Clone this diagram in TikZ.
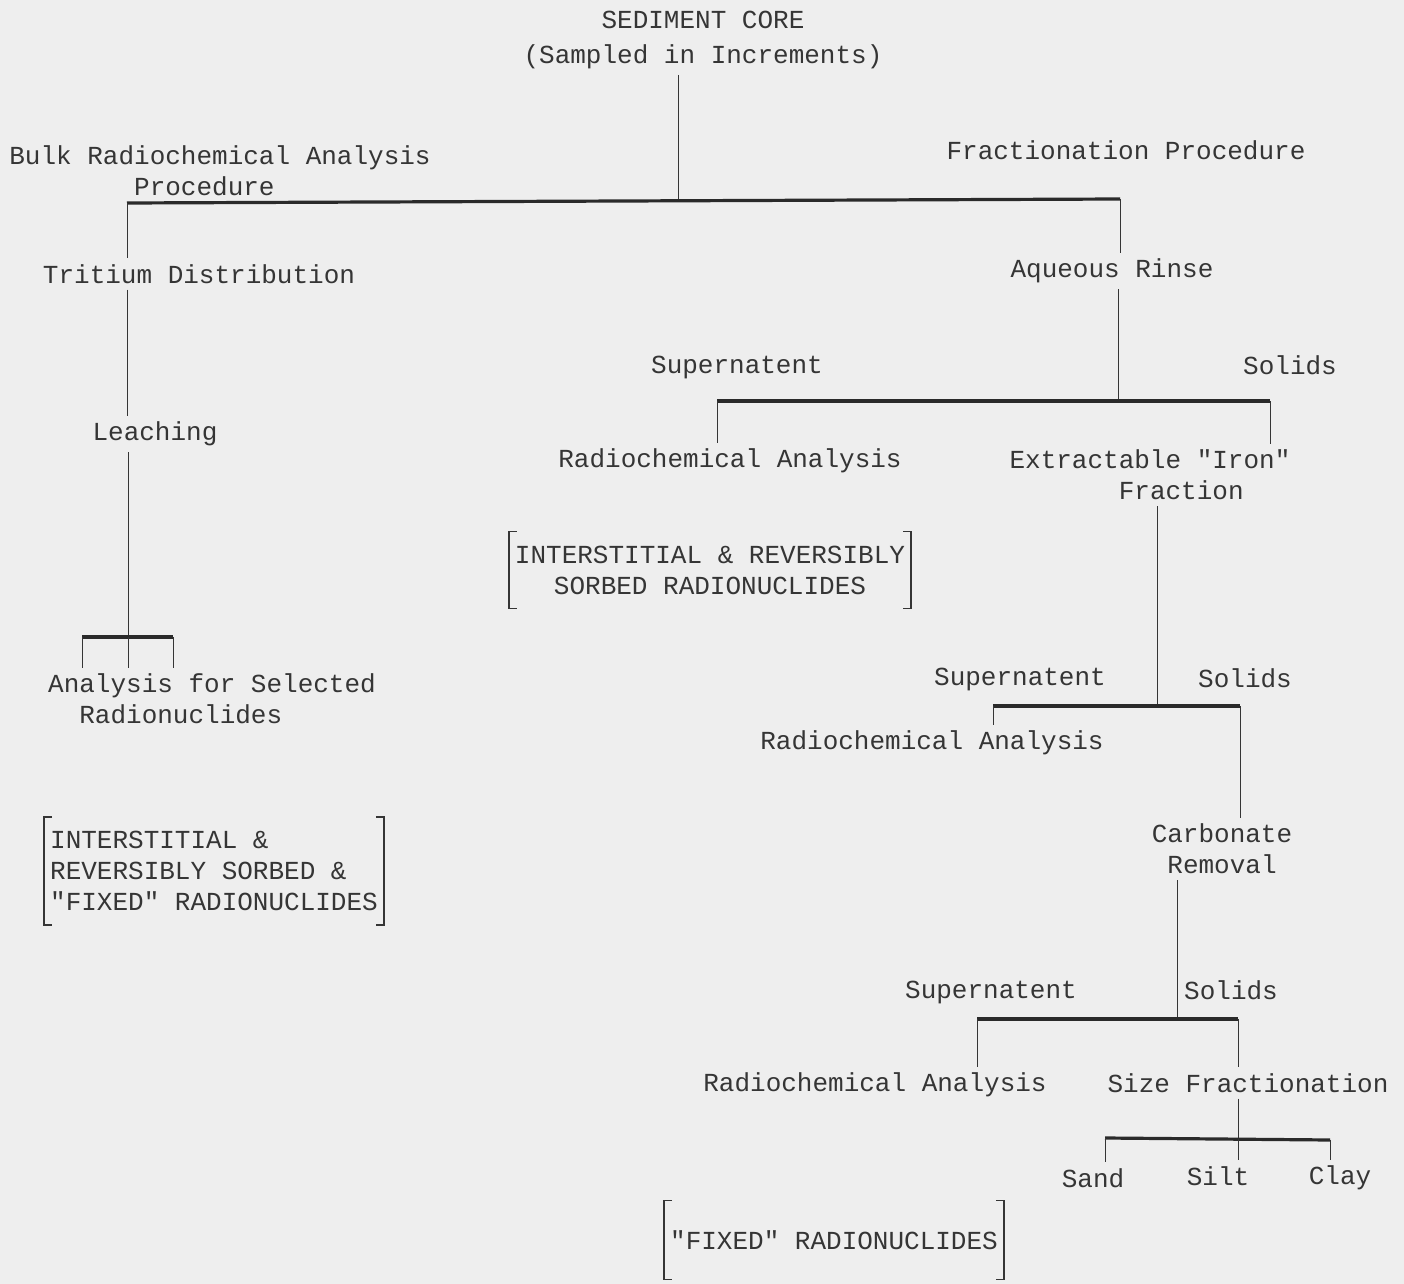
\documentclass[tikz,border=0pt]{standalone}
\usepackage{fontspec}
\newfontfamily\typewriter{Liberation Mono}
\usepackage{xcolor}
\usepackage{tikz}
\usetikzlibrary{positioning}

\definecolor{paper}{HTML}{EEEEEE}
\definecolor{ink}{HTML}{353535}

\begin{document}
\begin{tikzpicture}[x=0.5pt,y=-0.5pt,
    lbl/.style={inner sep=0pt,outer sep=3pt,font=\typewriter\fontsize{13}{15.5}\selectfont,text=ink},
    vline/.style={draw=ink,line width=0.5pt},
    bar/.style={draw=ink!80!black,line width=1.6pt},
    bracketbox/.style={lbl,inner xsep=3pt,inner ysep=7pt,outer sep=0pt}]
    \fill[paper] (0,0) rectangle (1404,1284);
    \useasboundingbox (0,0) rectangle (1404,1284);

    % left branch
    \node[lbl,align=center] (core) at (703,40) {SEDIMENT CORE\\[2pt](Sampled in Increments)};
    \node[lbl,align=left] (bulk) at (220,171) {Bulk Radiochemical Analysis\\\hphantom{xxxxxxxx}Procedure};
    \node[lbl] (frac) at (1126,150) {Fractionation Procedure};
    \node[lbl] (trit) at (199,274) {Tritium Distribution};
    \node[lbl] (leach) at (155,434) {Leaching};
    \node[lbl,align=left] (sel) at (212,699) {Analysis for Selected\\\hphantom{xx}Radionuclides};
    \node[bracketbox,align=left] (boxA) at (214,871) {INTERSTITIAL \&\\REVERSIBLY SORBED \&\\"FIXED" RADIONUCLIDES};

    % right branch
    \node[lbl] (rinse) at (1112,271) {Aqueous Rinse};
    \node[lbl] (supA) at (737,368) {Supernatent};
    \node[lbl] (solA) at (1290,365) {Solids};
    \node[lbl] (radA) at (730,461) {Radiochemical Analysis};
    \node[lbl,align=left] (iron) at (1150,475) {Extractable "Iron"\\\hphantom{xxxxxxx}Fraction};
    \node[bracketbox,align=center] (boxB) at (710,570) {INTERSTITIAL \& REVERSIBLY\\SORBED RADIONUCLIDES};
    \node[lbl] (supB) at (1020,679) {Supernatent};
    \node[lbl] (solB) at (1245,678) {Solids};
    \node[lbl] (radB) at (932,743) {Radiochemical Analysis};
    \node[lbl,align=center] (carb) at (1222,849) {Carbonate\\Removal};
    \node[lbl] (supC) at (991,992) {Supernatent};
    \node[lbl] (solC) at (1231,990) {Solids};
    \node[lbl] (radC) at (875,1085) {Radiochemical Analysis};
    \node[lbl] (size) at (1248,1083) {Size Fractionation};
    \node[lbl] (sand) at (1093,1178) {Sand};
    \node[lbl] (silt) at (1218,1176) {Silt};
    \node[lbl] (clay) at (1340,1178) {Clay};
    \node[bracketbox,inner ysep=15pt] (boxC) at (834,1240) {"FIXED" RADIONUCLIDES};

    % junctions
    \coordinate (top) at (678,201);
    \coordinate (barL) at (127,203);
    \coordinate (barR) at (1120,199);
    \coordinate (selL) at (82,637);
    \coordinate (selM) at (128,637);
    \coordinate (selR) at (173,637);
    \coordinate (rinseJ) at (1118,401);
    \coordinate (supL) at (717,401);
    \coordinate (solR) at (1270,401);
    \coordinate (ironJ) at (1157,706);
    \coordinate (radBL) at (993,706);
    \coordinate (carbR) at (1240,706);
    \coordinate (carbJ) at (1177,1019);
    \coordinate (radCL) at (977,1019);
    \coordinate (sizeR) at (1238,1019);
    \coordinate (sizeJ) at (1238,1139);
    \coordinate (sandL) at (1105,1138);
    \coordinate (clayR) at (1330,1140);

    \draw[vline] (core.south -| top) -- (top);
    \draw[bar] (barL) -- (barR);
    \draw[vline] (barL) -- (barL |- trit.north);
    \draw[vline] (barR) -- (barR |- rinse.north);
    \draw[vline] (barL |- trit.south) -- (barL |- leach.north);
    \draw[vline] (selM |- leach.south) -- (selM);
    \draw[bar] (selL) -- (selR);
    \foreach \c in {selL,selM,selR}
        \draw[vline] (\c) -- (\c |- sel.north);

    \draw[vline] (rinse.south -| rinseJ) -- (rinseJ);
    \draw[bar] (supL) -- (solR);
    \draw[vline] (supL) -- (supL |- radA.north);
    \draw[vline] (solR) -- (solR |- iron.north);

    \draw[vline] (iron.south -| ironJ) -- (ironJ);
    \draw[bar] (radBL) -- (carbR);
    \draw[vline] (radBL) -- (radBL |- radB.north);
    \draw[vline] (carbR) -- (carbR |- carb.north);

    \draw[vline] (carb.south -| carbJ) -- (carbJ);
    \draw[bar] (radCL) -- (sizeR);
    \draw[vline] (radCL) -- (radCL |- radC.north);
    \draw[vline] (sizeR) -- (sizeR |- size.north);

    \draw[vline] (size.south -| sizeJ) -- (sizeJ);
    \draw[bar] (sandL) -- (clayR);
    \draw[vline] (sandL) -- (sandL |- sand.north);
    \draw[vline] (sizeJ) -- (sizeJ |- silt.north);
    \draw[vline] (clayR) -- (clayR |- clay.north);

    % brackets
    \foreach \b in {boxA,boxB,boxC} {
        \draw[vline,line width=0.8pt] ([xshift=4pt]\b.north west) -| (\b.south west) -- ++(4pt,0);
        \draw[vline,line width=0.8pt] ([xshift=-4pt]\b.north east) -| (\b.south east) -- ++(-4pt,0);
    }
\end{tikzpicture}
\end{document}
